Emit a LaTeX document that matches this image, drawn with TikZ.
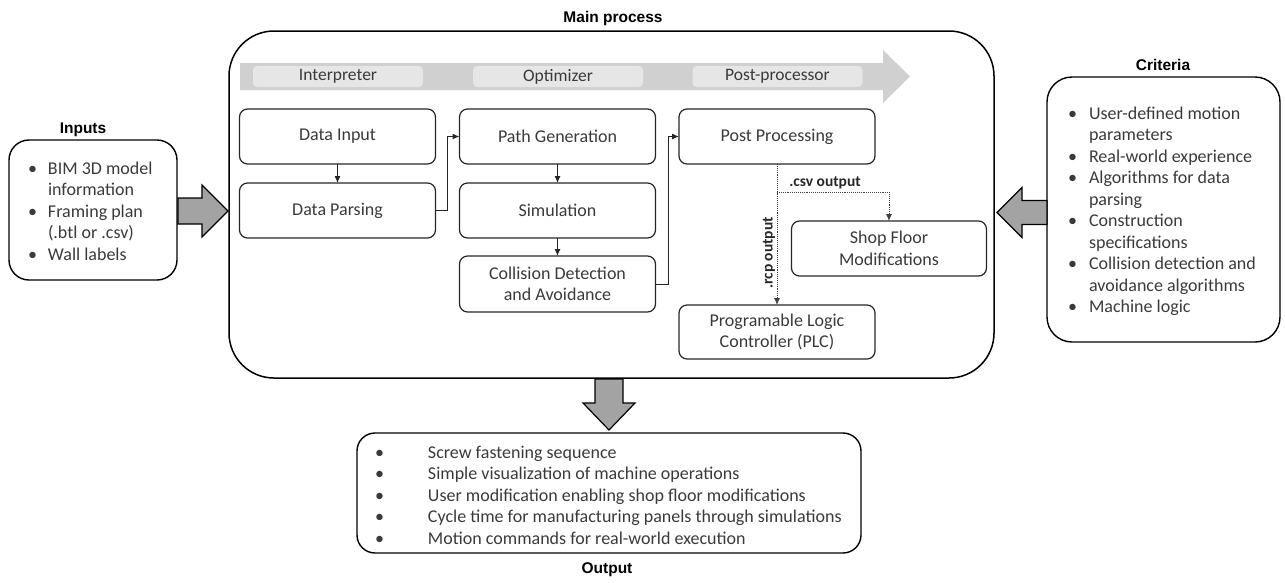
\documentclass[tikz,border=0pt]{standalone}
\usepackage{fontspec}
\setmainfont{Carlito}
\newfontfamily\titlefont{Liberation Sans}
\usetikzlibrary{arrows.meta,calc}
\definecolor{txt}{HTML}{3A3A3A}
\definecolor{bandgray}{HTML}{D0D0D0}
\definecolor{phasegray}{HTML}{E6E6E6}
\definecolor{biggray}{HTML}{A3A3A3}
\begin{document}
\begin{tikzpicture}[x=1pt,y=-1pt,
  every node/.style={inner sep=0pt, outer sep=0pt},
  procbox/.style={draw=black!85, line width=1.2pt, rounded corners=8pt, minimum width=196pt, minimum height=55pt, align=center, font=\fontsize{18}{21.5}\selectfont, text=txt},
  phase/.style={fill=phasegray, rounded corners=4pt, minimum width=170pt, minimum height=21pt, font=\fontsize{17.5}{19}\selectfont, text=txt},
  titletext/.style={font=\titlefont\bfseries\fontsize{15.5}{17}\selectfont, text=black},
  listtext/.style={font=\fontsize{18}{21.5}\selectfont, text=txt, anchor=base west},
  sidebox/.style={draw=black, line width=1.4pt},
  arr/.style={line width=1pt, draw=black!85, -{Latex[length=7pt,width=6pt]}},
  dotarr/.style={densely dotted, line width=0.9pt, draw=black!75, -{Latex[length=7pt,width=6pt]}},
  bigarrow/.style={draw=black, line width=1.2pt, fill=biggray, line join=miter},
  lbl/.style={font=\bfseries\fontsize{15.5}{17}\selectfont, text=black!85}
]
\useasboundingbox (0,0) rectangle (1285,582);

% main process box
\node[draw=black, line width=1.5pt, rounded corners=45pt, minimum width=765pt, minimum height=347pt] (main) at (611.5,204.5) {};
\node[titletext] (maint) at (613,18) {Main process};

% phase band
\fill[bandgray] (240,63) -- (883,63) -- (883,50) -- (910,76.5) -- (883,103) -- (883,90) -- (240,90) -- cycle;
\node[phase] (ph1) at (338,76.5) {Interpreter};
\node[phase] (ph2) at (558,76.5) {Optimizer};
\node[phase] (ph3) at (777.5,76.5) {Post-processor};

% process boxes
\node[procbox] (din) at (337.5,136.5) {Data Input};
\node[procbox] (dpar) at (337.5,210.5) {Data Parsing};
\node[procbox] (pg) at (557.5,136.5) {Path Generation};
\node[procbox] (sim) at (557.5,210.5) {Simulation};
\node[procbox, minimum height=56pt] (col) at (557.5,284) {Collision Detection\\and Avoidance};
\node[procbox] (pp) at (777,136.5) {Post Processing};
\node[procbox, minimum width=195pt] (sfm) at (889,248.5) {Shop Floor\\Modifications};
\node[procbox, minimum height=54pt] (plc) at (777,332) {Programable Logic\\Controller (PLC)};

% connectors
\draw[arr] (din) -- (dpar);
\draw[arr] (pg) -- (sim);
\draw[arr] (sim) -- (col);
\draw[arr] (dpar.east) -- ++(12,0) |- (pg.west);
\draw[arr] (col.east) -- ++(13,0) |- (pp.west);
\coordinate (br) at (777,192);
\draw[dotarr] (pp.south) -- (plc.north);
\draw[dotarr] (br) -| (sfm.north);
\node[lbl] (csvl) at (825,183) {.csv output};
\node[lbl, rotate=90] (rcpl) at (769,253) {.rcp output};

% inputs
\node[sidebox, rounded corners=20pt, minimum width=168pt, minimum height=140pt] (inp) at (93,210) {};
\node[titletext] (inpt) at (83,130) {Inputs};
\node[listtext] (inpl) at (28,174) {\begin{tabular}[t]{@{}p{20pt}@{}l@{}}
\textbullet & BIM 3D model\\
 & information\\
\textbullet & Framing plan\\
 & (.btl or .csv)\\
\textbullet & Wall labels
\end{tabular}};

% criteria
\node[sidebox, rounded corners=25pt, minimum width=233pt, minimum height=265pt] (crit) at (1163.5,209.5) {};
\node[titletext] (critt) at (1163,65) {Criteria};
\node[listtext] (critl) at (1068,119) {\begin{tabular}[t]{@{}p{21pt}@{}l@{}}
\textbullet & User-defined motion\\
 & parameters\\
\textbullet & Real-world experience\\
\textbullet & Algorithms for data\\
 & parsing\\
\textbullet & Construction\\
 & specifications\\
\textbullet & Collision detection and\\
 & avoidance algorithms\\
\textbullet & Machine logic
\end{tabular}};

% output
\node[sidebox, rounded corners=18pt, minimum width=504pt, minimum height=120pt] (out) at (609,493) {};
\node[titletext] (outt) at (607,570) {Output};
\node[listtext] (outl) at (375,458) {\begin{tabular}[t]{@{}p{53pt}@{}l@{}}
\textbullet & Screw fastening sequence\\
\textbullet & Simple visualization of machine operations\\
\textbullet & User modification enabling shop floor modifications\\
\textbullet & Cycle time for manufacturing panels through simulations\\
\textbullet & Motion commands for real-world execution
\end{tabular}};

% big block arrows
\coordinate (ia) at (inp.east);
\coordinate (ib) at ($(main.west |- inp.east)+(-1,1)$);
\draw[bigarrow] ($(ia)+(1,-12)$) -- ($(ib)+(-26,-13)$) -- ($(ib)+(-26,-26)$) -- (ib) -- ($(ib)+(-26,26)$) -- ($(ib)+(-26,13)$) -- ($(ia)+(1,14)$) -- cycle;

\coordinate (ca) at ($(crit.west)+(0,3)$);
\coordinate (cb) at ($(main.east |- crit.west)+(3,3)$);
\draw[bigarrow] ($(ca)+(0,-12)$) -- ($(cb)+(25,-12)$) -- ($(cb)+(25,-25)$) -- (cb) -- ($(cb)+(25,25)$) -- ($(cb)+(25,12)$) -- ($(ca)+(0,12)$) -- cycle;

\coordinate (oa) at ($(main.south -| out.north)+(0,1)$);
\coordinate (ob) at ($(out.north)+(0,-3)$);
\draw[bigarrow] ($(oa)+(-14,0)$) -- ($(ob)+(-14,-27)$) -- ($(ob)+(-26,-27)$) -- (ob) -- ($(ob)+(26,-27)$) -- ($(ob)+(14,-27)$) -- ($(oa)+(14,0)$) -- cycle;
\end{tikzpicture}
\end{document}
